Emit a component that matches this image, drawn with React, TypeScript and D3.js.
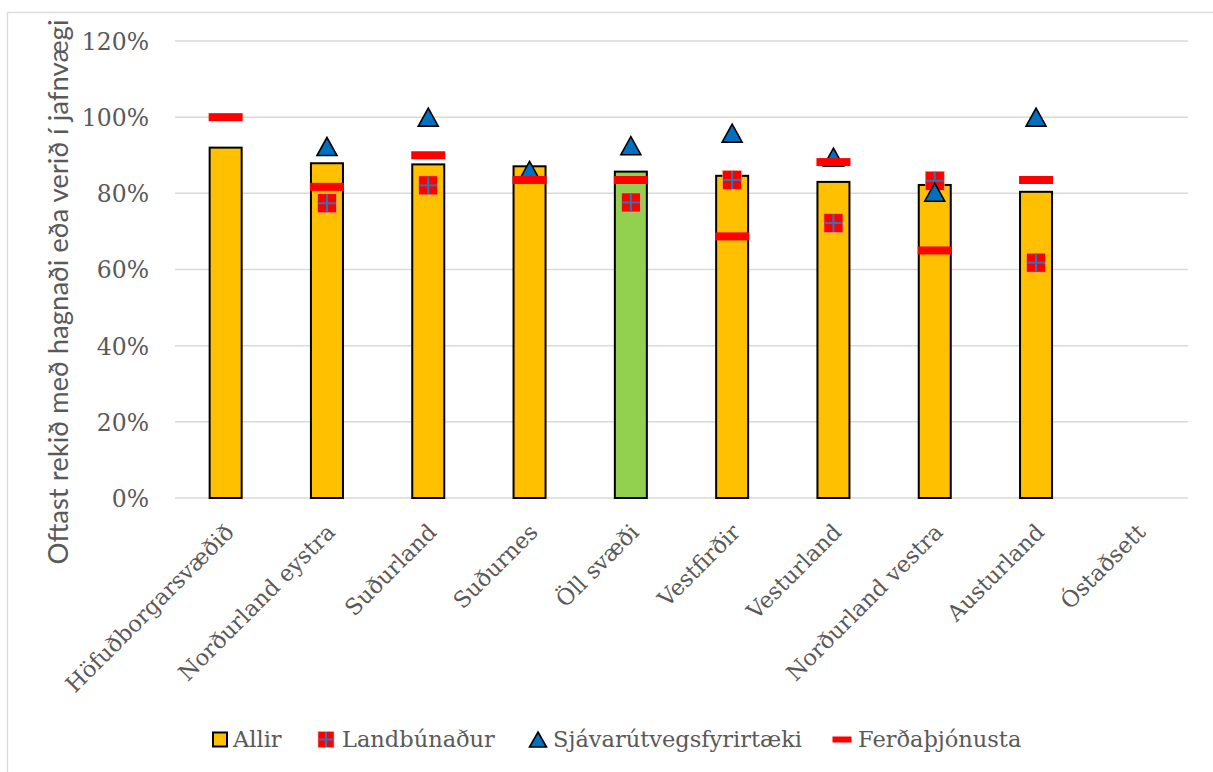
import React from "react";
import * as d3 from "d3";

const categories = [
  "Höfuðborgarsvæðið",
  "Norðurland eystra",
  "Suðurland",
  "Suðurnes",
  "Öll svæði",
  "Vestfirðir",
  "Vesturland",
  "Norðurland vestra",
  "Austurland",
  "Óstaðsett",
];
const allir: (number | null)[] = [0.92, 0.879, 0.876, 0.871, 0.857, 0.846, 0.83, 0.822, 0.804, null];
const landbunadur: (number | null)[] = [null, 0.774, 0.821, null, 0.776, 0.835, 0.722, 0.833, 0.618, null];
const sjavarutvegur: (number | null)[] = [null, 0.923, 1.0, 0.86, 0.925, 0.958, 0.895, 0.803, 1.0, null];
const ferdathjonusta: (number | null)[] = [1.0, 0.817, 0.9, 0.835, 0.835, 0.687, 0.882, 0.65, 0.835, null];
const yTicks = [0, 0.2, 0.4, 0.6, 0.8, 1.0, 1.2];
const highlight = "Öll svæði";
const legendLabels = ["Allir", "Landbúnaður", "Sjávarútvegsfyrirtæki", "Ferðaþjónusta"];

const W = 1213;
const H = 772;
const left = 175;
const right = 1188;
const top = 41;
const bottom = 498;
const serif = "'DejaVu Serif', serif";
const textColor = "#595959";
const gridColor = "#D9D9D9";

const x = d3.scaleBand<string>().domain(categories).range([left, right]).padding(0);
const y = d3.scaleLinear().domain([0, 1.2]).range([bottom, top]);
const fmt = d3.format(".0%");
const barW = x.bandwidth() * 0.316;

function Square({ cx, cy, s }: { cx: number; cy: number; s: number }) {
  return (
    <g>
      <rect x={cx - s / 2} y={cy - s / 2} width={s} height={s} fill="#FF0000" stroke="#F4B183" strokeWidth={0.6} />
      <line x1={cx} x2={cx} y1={cy - s / 2 + 0.5} y2={cy + s / 2 - 0.5} stroke="#2E75B6" strokeWidth={2} />
      <line x1={cx - s / 2 + 0.5} x2={cx + s / 2 - 0.5} y1={cy} y2={cy} stroke="#2E75B6" strokeWidth={2} />
    </g>
  );
}

function Tri({ cx, cy, w, h }: { cx: number; cy: number; w: number; h: number }) {
  const p = d3.path();
  p.moveTo(cx, cy - h / 2);
  p.lineTo(cx + w / 2, cy + h / 2);
  p.lineTo(cx - w / 2, cy + h / 2);
  p.closePath();
  return <path d={p.toString()} fill="#0070C0" stroke="#000" strokeWidth={1.6} strokeLinejoin="miter" />;
}

export default function App() {
  const legendItems = [
    { mx: 220, tx: 233 },
    { mx: 326, tx: 342 },
    { mx: 538, tx: 553 },
    { mx: 842, tx: 858 },
  ];
  const ly = 739.5;
  return (
    <svg
      width={W}
      height={H}
      style={{ position: "absolute", left: 0, top: 0, background: "#fff" }}
    >
      <rect x={7.5} y={12.5} width={W + 10} height={H + 10} fill="#fff" stroke={gridColor} strokeWidth={1.3} />
      {/* gridlines */}
      {yTicks.map((t) => (
        <line key={t} x1={left} x2={right} y1={y(t)} y2={y(t)} stroke={gridColor} strokeWidth={1.5} />
      ))}
      {/* y tick labels */}
      {yTicks.map((t) => (
        <text
          key={"l" + t}
          x={149}
          y={y(t)}
          dy="0.38em"
          textAnchor="end"
          fontFamily={serif}
          fontSize={23.5}
          fill={textColor}
        >
          {fmt(t)}
        </text>
      ))}
      {/* y title */}
      <text
        transform={`translate(68,292) rotate(-90)`}
        textAnchor="middle"
        fontFamily="Lato, 'Open Sans', sans-serif"
        fontSize={27}
        fill={textColor}
        textLength={545}
        lengthAdjust="spacingAndGlyphs"
      >
        Oftast rekið með hagnaði eða verið í jafnvægi
      </text>
      {/* bars */}
      {categories.map((c, i) => {
        const v = allir[i];
        if (v == null) return null;
        const cx = x(c)! + x.bandwidth() / 2;
        return (
          <rect
            key={c}
            x={cx - barW / 2}
            y={y(v)}
            width={barW}
            height={y(0) - y(v)}
            fill={c === highlight ? "#92D050" : "#FFC000"}
            stroke="#000"
            strokeWidth={2}
          />
        );
      })}
      {/* landbúnaður */}
      {categories.map((c, i) => {
        const v = landbunadur[i];
        if (v == null) return null;
        const cx = x(c)! + x.bandwidth() / 2;
        return <Square key={"lb" + c} cx={cx} cy={y(v)} s={19} />;
      })}
      {/* sjávarútvegur */}
      {categories.map((c, i) => {
        const v = sjavarutvegur[i];
        if (v == null) return null;
        const cx = x(c)! + x.bandwidth() / 2;
        return <Tri key={"sj" + c} cx={cx} cy={y(v)} w={20} h={18} />;
      })}
      {/* ferðaþjónusta */}
      {categories.map((c, i) => {
        const v = ferdathjonusta[i];
        if (v == null) return null;
        const cx = x(c)! + x.bandwidth() / 2;
        return <rect key={"fd" + c} x={cx - 17} y={y(v) - 4} width={34} height={8} fill="#FF0000" />;
      })}
      {/* x labels */}
      {categories.map((c) => {
        const cx = x(c)! + x.bandwidth() / 2;
        return (
          <text
            key={"x" + c}
            transform={`translate(${cx + 4},${bottom + 30}) rotate(-45)`}
            dy="0.35em"
            textAnchor="end"
            fontFamily={serif}
            fontSize={22.5}
            fill={textColor}
          >
            {c}
          </text>
        );
      })}
      {/* legend */}
      <g>
        <rect x={legendItems[0].mx - 7} y={ly - 7} width={14} height={14} fill="#FFC000" stroke="#000" strokeWidth={2} />
        <Square cx={legendItems[1].mx} cy={ly} s={16} />
        <Tri cx={legendItems[2].mx} cy={ly} w={17} h={15} />
        <rect x={legendItems[3].mx - 9.5} y={ly - 3} width={19} height={6} fill="#FF0000" />
        {legendLabels.map((l, i) => (
          <text key={l} x={legendItems[i].tx} y={747} fontFamily={serif} fontSize={22.5} fill={textColor}>
            {l}
          </text>
        ))}
      </g>
    </svg>
  );
}
